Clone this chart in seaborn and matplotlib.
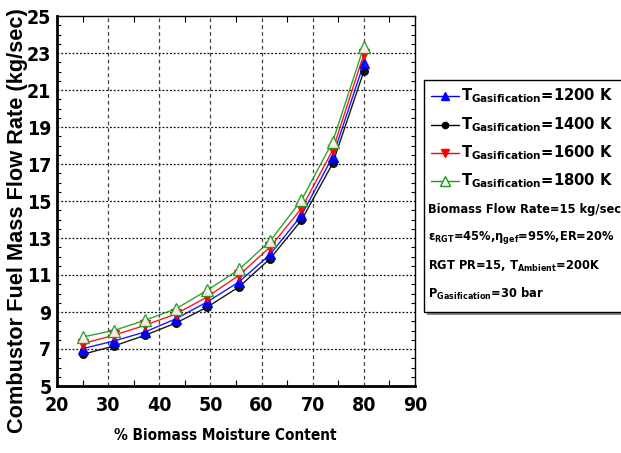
import matplotlib
matplotlib.use("Agg")
import matplotlib.pyplot as plt
from matplotlib import font_manager
from matplotlib.font_manager import FontProperties, findfont
from matplotlib.lines import Line2D
from matplotlib.patches import Rectangle
from matplotlib.ticker import MultipleLocator, FixedLocator
import seaborn as sns
import pandas as pd

# moisture content (%) and combustor fuel flow (kg/sec) per gasification temperature
moisture = [25, 31.1, 37.2, 43.3, 49.4, 55.6, 61.7, 67.8, 73.9, 80]
flow_1200 = [7.02, 7.43, 7.92, 8.64, 9.55, 10.63, 12.12, 14.23, 17.39, 22.44]
flow_1400 = [6.71, 7.16, 7.74, 8.41, 9.27, 10.36, 11.89, 13.96, 17.03, 22.02]
flow_1600 = [7.29, 7.74, 8.28, 8.90, 9.82, 10.99, 12.52, 14.60, 17.75, 22.94]
flow_1800 = [7.65, 8.00, 8.55, 9.18, 10.18, 11.30, 12.85, 15.05, 18.20, 23.35]
series_names = ["1200 K", "1400 K", "1600 K", "1800 K"]
y_ticks = [5, 7, 9, 11, 13, 15, 17, 19, 21, 23, 25]
x_ticks = [20, 30, 40, 50, 60, 70, 80, 90]

info_lines = [
    "Biomass Flow Rate=15 kg/sec",
    "ε$_{\\mathbf{RGT}}$=45%,η$_{\\mathbf{gef}}$=95%,ER=20%",
    "RGT PR=15, T$_{\\mathbf{Ambient}}$=200K",
    "P$_{\\mathbf{Gasification}}$=30 bar",
]

sns.set_theme(style="white")

# pick a narrow bold face for labels when one is available
installed = {f.name for f in font_manager.fontManager.ttflist}
stretch = "normal"
if "Liberation Sans Narrow" in installed:
    narrow = "Liberation Sans Narrow"
else:
    narrow = "DejaVu Sans"
    try:
        path = findfont(FontProperties(family="DejaVu Sans", stretch="condensed", weight="bold"),
                        fallback_to_default=False)
    except Exception:
        path = ""
    if "Condensed" in path:
        stretch = "condensed"
    else:
        narrow = "Liberation Sans"

plt.rcParams["font.family"] = [narrow, "DejaVu Sans"]
plt.rcParams["font.stretch"] = stretch
plt.rcParams["mathtext.fontset"] = "custom"
plt.rcParams["mathtext.rm"] = narrow
plt.rcParams["mathtext.bf"] = narrow + ":bold"
plt.rcParams["mathtext.it"] = narrow + ":italic"
for key in ["text.color", "axes.labelcolor", "xtick.color", "ytick.color"]:
    plt.rcParams[key] = "black"

W, H = 621, 453
fig = plt.figure(figsize=(W / 100, H / 100), dpi=100)
ax = fig.add_axes([57 / W, 1 - 386 / H, (415 - 57) / W, (386 - 16) / H])

data = pd.DataFrame({
    "moisture": moisture * 4,
    "flow": flow_1200 + flow_1400 + flow_1600 + flow_1800,
    "temp": sum([[n] * len(moisture) for n in series_names], []),
})

styles = {
    "1200 K": dict(color="#0000ff", marker="^", mfc="#0000ff", mec="#0000ff", ms=6.5),
    "1400 K": dict(color="#000000", marker="o", mfc="#000000", mec="#000000", ms=5.5),
    "1600 K": dict(color="#ff0000", marker="v", mfc="#ff0000", mec="#ff0000", ms=6.5),
    "1800 K": dict(color="#1a9a1a", marker="^", mfc="white", mec="#1a9a1a", ms=8.5),
}

draw_order = ["1400 K", "1200 K", "1600 K", "1800 K"]
for name in draw_order:
    st = styles[name]
    sub = data[data["temp"] == name]
    sns.lineplot(data=sub, x="moisture", y="flow", ax=ax, color=st["color"], lw=1.0,
                 marker=st["marker"], markerfacecolor=st["mfc"], markeredgecolor=st["mec"],
                 markersize=st["ms"], markeredgewidth=1.0, alpha=0.9, legend=False,
                 estimator=None, zorder=3)

ax.set_xlim(20, 90)
ax.set_ylim(5, 25)
ax.xaxis.set_major_locator(FixedLocator(x_ticks))
ax.xaxis.set_minor_locator(MultipleLocator(5))
ax.yaxis.set_major_locator(FixedLocator(y_ticks))
ax.yaxis.set_minor_locator(MultipleLocator(0.5))

for g in x_ticks[1:-1]:
    ax.axvline(g, color="#444444", lw=0.9, ls=(0, (3, 2.5)), zorder=1)
for g in y_ticks[1:-1]:
    ax.axhline(g, color="#111111", lw=0.9, ls=(0, (1.5, 1.5)), zorder=1)

ax.tick_params(axis="both", which="both", direction="in", top=True, right=True,
               bottom=True, left=True, color="black", labelcolor="black")
ax.tick_params(axis="both", which="major", length=0, labelsize=14, pad=4)
ax.tick_params(axis="x", which="minor", length=4, width=0.8)
ax.tick_params(axis="y", which="minor", length=3, width=0.8)
ax.tick_params(axis="x", which="major", pad=7)
for lab in ax.get_xticklabels() + ax.get_yticklabels():
    lab.set_fontweight("bold")

ax.spines["left"].set_linewidth(2.0)
ax.spines["bottom"].set_linewidth(2.0)
ax.spines["top"].set_linewidth(1.0)
ax.spines["right"].set_linewidth(1.0)
for s in ax.spines.values():
    s.set_color("black")

xl = ax.set_xlabel("% Biomass Moisture Content", fontsize=12, fontweight="bold", color="black")
ax.xaxis.set_label_coords((225 - 57) / 358, (386 - 428) / 370)
yl = ax.set_ylabel("Combustor Fuel Mass Flow Rate (kg/sec)", fontsize=15, fontweight="bold",
                   family="Liberation Sans", stretch="normal", color="black")
ax.yaxis.set_label_coords((28 - 57) / 358, (386 - 221) / 370)

# legend panel to the right of the axes
def fx(px):
    return px / W
def fy(py):
    return 1 - py / H

shadow = Rectangle((fx(427), fy(315)), fx(640) - fx(427), fy(80) - fy(315) - 0.002,
                   transform=fig.transFigure, facecolor="#888888", edgecolor="none", zorder=0)
box = Rectangle((fx(424), fy(312)), fx(640) - fx(424), fy(80) - fy(312),
                transform=fig.transFigure, facecolor="white", edgecolor="black", lw=1.0, zorder=1)
fig.patches.extend([shadow, box])

entry_texts = []
entry_y = [96, 125, 153, 181]
for name, py in zip(series_names, entry_y):
    st = styles[name]
    fig.add_artist(Line2D([fx(431), fx(459)], [fy(py), fy(py)], transform=fig.transFigure,
                          color=st["color"], lw=1.0, zorder=2))
    fig.add_artist(Line2D([fx(445)], [fy(py)], transform=fig.transFigure, color=st["color"],
                          marker=st["marker"], mfc=st["mfc"], mec=st["mec"],
                          ms=st["ms"] - 1, zorder=3))
    t = fig.text(fx(461), fy(py), "T$_{\\mathbf{Gasification}}$=" + name, fontsize=12,
                 fontweight="bold", va="center", ha="left", zorder=3, color="black")
    entry_texts.append(t)

info_texts = []
info_y = [209, 238, 266, 294]
for txt, py in zip(info_lines, info_y):
    t = fig.text(fx(428), fy(py), txt, fontsize=12, fontweight="bold", va="center",
                 ha="left", zorder=3, color="black")
    info_texts.append(t)

# size each group of labels so its widest member fits its slot
fig.canvas.draw()
renderer = fig.canvas.get_renderer()

def fit(texts, target, vertical=False):
    spans = []
    for t in texts:
        bb = t.get_window_extent(renderer)
        spans.append(bb.height if vertical else bb.width)
    k = target / max(spans)
    for t in texts:
        t.set_fontsize(t.get_fontsize() * k)

fit(entry_texts, 152)
fit(info_texts, 192)
fit([xl], 222)
fit([yl], 427, vertical=True)

fig.savefig("out.png", dpi=100)
